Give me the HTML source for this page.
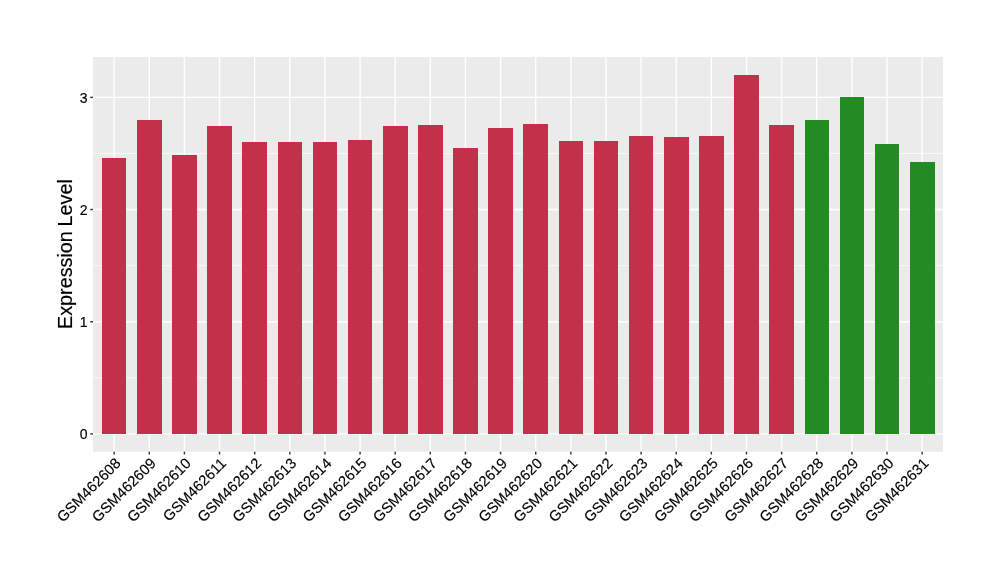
<!DOCTYPE html>
<html><head><meta charset="utf-8"><title>Expression Level</title>
<style>html,body{margin:0;padding:0;background:#fff}svg{display:block}text{font-family:"Liberation Sans",Arial,Helvetica,sans-serif;fill:#000;stroke:#000;stroke-width:0.15px}</style></head><body>
<svg width="1000" height="580" viewBox="0 0 1000 580">
<rect x="0" y="0" width="1000" height="580" fill="#fff"/>
<rect x="93" y="57" width="850" height="394.7" fill="#EBEBEB"/>
<g stroke="#fff" stroke-width="0.71" fill="none">
<line x1="93" x2="943" y1="377.81" y2="377.81"/>
<line x1="93" x2="943" y1="265.64" y2="265.64"/>
<line x1="93" x2="943" y1="153.47" y2="153.47"/>
</g>
<g stroke="#fff" stroke-width="1.42" fill="none">
<line x1="93" x2="943" y1="433.90" y2="433.90"/>
<line x1="93" x2="943" y1="321.73" y2="321.73"/>
<line x1="93" x2="943" y1="209.56" y2="209.56"/>
<line x1="93" x2="943" y1="97.39" y2="97.39"/>
<line x1="114.15" x2="114.15" y1="57" y2="451.7"/>
<line x1="149.28" x2="149.28" y1="57" y2="451.7"/>
<line x1="184.41" x2="184.41" y1="57" y2="451.7"/>
<line x1="219.54" x2="219.54" y1="57" y2="451.7"/>
<line x1="254.67" x2="254.67" y1="57" y2="451.7"/>
<line x1="289.80" x2="289.80" y1="57" y2="451.7"/>
<line x1="324.93" x2="324.93" y1="57" y2="451.7"/>
<line x1="360.06" x2="360.06" y1="57" y2="451.7"/>
<line x1="395.19" x2="395.19" y1="57" y2="451.7"/>
<line x1="430.32" x2="430.32" y1="57" y2="451.7"/>
<line x1="465.45" x2="465.45" y1="57" y2="451.7"/>
<line x1="500.58" x2="500.58" y1="57" y2="451.7"/>
<line x1="535.71" x2="535.71" y1="57" y2="451.7"/>
<line x1="570.84" x2="570.84" y1="57" y2="451.7"/>
<line x1="605.97" x2="605.97" y1="57" y2="451.7"/>
<line x1="641.10" x2="641.10" y1="57" y2="451.7"/>
<line x1="676.23" x2="676.23" y1="57" y2="451.7"/>
<line x1="711.36" x2="711.36" y1="57" y2="451.7"/>
<line x1="746.49" x2="746.49" y1="57" y2="451.7"/>
<line x1="781.62" x2="781.62" y1="57" y2="451.7"/>
<line x1="816.75" x2="816.75" y1="57" y2="451.7"/>
<line x1="851.88" x2="851.88" y1="57" y2="451.7"/>
<line x1="887.01" x2="887.01" y1="57" y2="451.7"/>
<line x1="922.14" x2="922.14" y1="57" y2="451.7"/>
</g>
<g shape-rendering="crispEdges">
<rect x="102" y="158" width="24" height="276" fill="#C2304A"/>
<rect x="137" y="120" width="25" height="314" fill="#C2304A"/>
<rect x="172" y="155" width="25" height="279" fill="#C2304A"/>
<rect x="207" y="126" width="25" height="308" fill="#C2304A"/>
<rect x="242" y="142" width="25" height="292" fill="#C2304A"/>
<rect x="278" y="142" width="24" height="292" fill="#C2304A"/>
<rect x="313" y="142" width="24" height="292" fill="#C2304A"/>
<rect x="348" y="140" width="24" height="294" fill="#C2304A"/>
<rect x="383" y="126" width="25" height="308" fill="#C2304A"/>
<rect x="418" y="125" width="25" height="309" fill="#C2304A"/>
<rect x="453" y="148" width="25" height="286" fill="#C2304A"/>
<rect x="488" y="128" width="25" height="306" fill="#C2304A"/>
<rect x="523" y="124" width="25" height="310" fill="#C2304A"/>
<rect x="559" y="141" width="24" height="293" fill="#C2304A"/>
<rect x="594" y="141" width="24" height="293" fill="#C2304A"/>
<rect x="629" y="136" width="24" height="298" fill="#C2304A"/>
<rect x="664" y="137" width="25" height="297" fill="#C2304A"/>
<rect x="699" y="136" width="25" height="298" fill="#C2304A"/>
<rect x="734" y="75" width="25" height="359" fill="#C2304A"/>
<rect x="769" y="125" width="25" height="309" fill="#C2304A"/>
<rect x="805" y="120" width="24" height="314" fill="#228B22"/>
<rect x="840" y="97" width="24" height="337" fill="#228B22"/>
<rect x="875" y="144" width="24" height="290" fill="#228B22"/>
<rect x="910" y="162" width="25" height="272" fill="#228B22"/>
</g>
<g stroke="#333" stroke-width="1.42" fill="none">
<line x1="90.25" x2="93" y1="433.90" y2="433.90"/>
<line x1="90.25" x2="93" y1="321.73" y2="321.73"/>
<line x1="90.25" x2="93" y1="209.56" y2="209.56"/>
<line x1="90.25" x2="93" y1="97.39" y2="97.39"/>
<line x1="114.15" x2="114.15" y1="451.7" y2="454.45"/>
<line x1="149.28" x2="149.28" y1="451.7" y2="454.45"/>
<line x1="184.41" x2="184.41" y1="451.7" y2="454.45"/>
<line x1="219.54" x2="219.54" y1="451.7" y2="454.45"/>
<line x1="254.67" x2="254.67" y1="451.7" y2="454.45"/>
<line x1="289.80" x2="289.80" y1="451.7" y2="454.45"/>
<line x1="324.93" x2="324.93" y1="451.7" y2="454.45"/>
<line x1="360.06" x2="360.06" y1="451.7" y2="454.45"/>
<line x1="395.19" x2="395.19" y1="451.7" y2="454.45"/>
<line x1="430.32" x2="430.32" y1="451.7" y2="454.45"/>
<line x1="465.45" x2="465.45" y1="451.7" y2="454.45"/>
<line x1="500.58" x2="500.58" y1="451.7" y2="454.45"/>
<line x1="535.71" x2="535.71" y1="451.7" y2="454.45"/>
<line x1="570.84" x2="570.84" y1="451.7" y2="454.45"/>
<line x1="605.97" x2="605.97" y1="451.7" y2="454.45"/>
<line x1="641.10" x2="641.10" y1="451.7" y2="454.45"/>
<line x1="676.23" x2="676.23" y1="451.7" y2="454.45"/>
<line x1="711.36" x2="711.36" y1="451.7" y2="454.45"/>
<line x1="746.49" x2="746.49" y1="451.7" y2="454.45"/>
<line x1="781.62" x2="781.62" y1="451.7" y2="454.45"/>
<line x1="816.75" x2="816.75" y1="451.7" y2="454.45"/>
<line x1="851.88" x2="851.88" y1="451.7" y2="454.45"/>
<line x1="887.01" x2="887.01" y1="451.7" y2="454.45"/>
<line x1="922.14" x2="922.14" y1="451.7" y2="454.45"/>
</g>
<g font-size="14" text-anchor="end">
<text x="87.6" y="438.9">0</text>
<text x="87.6" y="326.7">1</text>
<text x="87.6" y="214.5">2</text>
<text x="87.6" y="103.3">3</text>
</g>
<g font-size="14.8" text-anchor="end">
<text transform="translate(118.15,460.70) rotate(-45)" x="0" y="5">GSM462608</text>
<text transform="translate(153.28,460.70) rotate(-45)" x="0" y="5">GSM462609</text>
<text transform="translate(188.41,460.70) rotate(-45)" x="0" y="5">GSM462610</text>
<text transform="translate(223.54,460.70) rotate(-45)" x="0" y="5">GSM462611</text>
<text transform="translate(258.67,460.70) rotate(-45)" x="0" y="5">GSM462612</text>
<text transform="translate(293.80,460.70) rotate(-45)" x="0" y="5">GSM462613</text>
<text transform="translate(328.93,460.70) rotate(-45)" x="0" y="5">GSM462614</text>
<text transform="translate(364.06,460.70) rotate(-45)" x="0" y="5">GSM462615</text>
<text transform="translate(399.19,460.70) rotate(-45)" x="0" y="5">GSM462616</text>
<text transform="translate(434.32,460.70) rotate(-45)" x="0" y="5">GSM462617</text>
<text transform="translate(469.45,460.70) rotate(-45)" x="0" y="5">GSM462618</text>
<text transform="translate(504.58,460.70) rotate(-45)" x="0" y="5">GSM462619</text>
<text transform="translate(539.71,460.70) rotate(-45)" x="0" y="5">GSM462620</text>
<text transform="translate(574.84,460.70) rotate(-45)" x="0" y="5">GSM462621</text>
<text transform="translate(609.97,460.70) rotate(-45)" x="0" y="5">GSM462622</text>
<text transform="translate(645.10,460.70) rotate(-45)" x="0" y="5">GSM462623</text>
<text transform="translate(680.23,460.70) rotate(-45)" x="0" y="5">GSM462624</text>
<text transform="translate(715.36,460.70) rotate(-45)" x="0" y="5">GSM462625</text>
<text transform="translate(750.49,460.70) rotate(-45)" x="0" y="5">GSM462626</text>
<text transform="translate(785.62,460.70) rotate(-45)" x="0" y="5">GSM462627</text>
<text transform="translate(820.75,460.70) rotate(-45)" x="0" y="5">GSM462628</text>
<text transform="translate(855.88,460.70) rotate(-45)" x="0" y="5">GSM462629</text>
<text transform="translate(891.01,460.70) rotate(-45)" x="0" y="5">GSM462630</text>
<text transform="translate(926.14,460.70) rotate(-45)" x="0" y="5">GSM462631</text>
</g>
<text font-size="19.8" word-spacing="-0.8" text-anchor="middle" transform="translate(72,254.1) rotate(-90)">Expression Level</text>
</svg></body></html>
